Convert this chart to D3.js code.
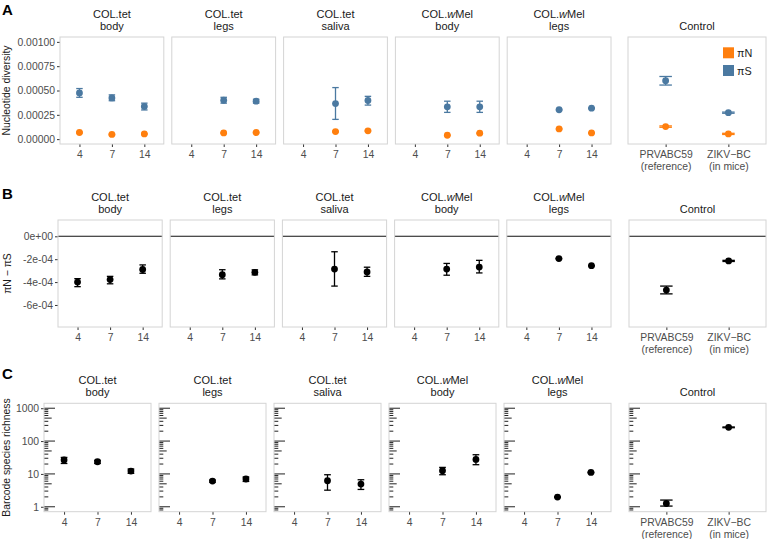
<!DOCTYPE html>
<html>
<head>
<meta charset="utf-8">
<script src="https://cdn.jsdelivr.net/npm/d3@7"></script>
<style>
  body { margin: 0; background: #fff; }
  svg { display: block; font-family: "Liberation Sans", Arial, Helvetica, sans-serif; }
  .tick line { stroke: #333; }
  .tick text { fill: #4d4d4d; font-size: 10.4px; }
</style>
</head>
<body>
<svg id="chart" width="768" height="539"></svg>
<script>
// ---- data ----
var groupTitles = [["COL.tet", "body"], ["COL.tet", "legs"], ["COL.tet", "saliva"], ["COL.wMel", "body"], ["COL.wMel", "legs"]];
var days = ["4", "7", "14"];
var controlLabels = ["PRVABC59|(reference)", "ZIKV\u2212BC|(in mice)"];

// [mean, low, high] per day, null = no sample
var piN = [
  [[6.8e-5, 6.2e-5, 7.4e-5], [4.8e-5, 4.3e-5, 5.3e-5], [5.4e-5, 4.9e-5, 5.9e-5]],
  [null, [6.4e-5, 5.9e-5, 6.9e-5], [6.8e-5, 6.3e-5, 7.3e-5]],
  [null, [7.8e-5, 7.2e-5, 8.4e-5], [8.5e-5, 7.9e-5, 9.1e-5]],
  [null, [4.0e-5, 3.5e-5, 4.5e-5], [6.1e-5, 5.6e-5, 6.6e-5]],
  [null, [1.05e-4, 1.0e-4, 1.1e-4], [6.4e-5, 5.9e-5, 6.9e-5]]
];
var piNControl = [[1.29e-4, 1.22e-4, 1.36e-4], [5.4e-5, 4.8e-5, 6.0e-5]];

var piS = [
  [[4.75e-4, 4.3e-4, 5.2e-4], [4.24e-4, 3.95e-4, 4.55e-4], [3.36e-4, 3.0e-4, 3.7e-4]],
  [null, [4.0e-4, 3.7e-4, 4.3e-4], [3.9e-4, 3.7e-4, 4.1e-4]],
  [null, [3.66e-4, 2.03e-4, 5.3e-4], [3.97e-4, 3.5e-4, 4.4e-4]],
  [null, [3.32e-4, 2.75e-4, 3.9e-4], [3.32e-4, 2.75e-4, 3.9e-4]],
  [null, [3.02e-4, 2.97e-4, 3.07e-4], [3.18e-4, 3.13e-4, 3.23e-4]]
];
var piSControl = [[6.0e-4, 5.56e-4, 6.44e-4], [2.72e-4, 2.66e-4, 2.78e-4]];

var diffNS = [
  [[-4.0e-4, -4.4e-4, -3.7e-4], [-3.78e-4, -4.15e-4, -3.5e-4], [-2.9e-4, -3.23e-4, -2.5e-4]],
  [null, [-3.35e-4, -3.72e-4, -2.92e-4], [-3.15e-4, -3.37e-4, -2.93e-4]],
  [null, [-2.86e-4, -4.35e-4, -1.35e-4], [-3.12e-4, -3.5e-4, -2.7e-4]],
  [null, [-2.86e-4, -3.4e-4, -2.37e-4], [-2.69e-4, -3.2e-4, -2.1e-4]],
  [null, [-1.95e-4, -1.98e-4, -1.92e-4], [-2.57e-4, -2.6e-4, -2.54e-4]]
];
var diffControl = [[-4.7e-4, -5.03e-4, -4.35e-4], [-2.15e-4, -2.2e-4, -2.1e-4]];

var richness = [
  [[26.5, 20.8, 31.8], [23.5, 20.8, 25.8], [12.2, 10.4, 14.1]],
  [null, [6.06, 5.6, 6.5], [7.0, 5.9, 8.05]],
  [null, [6.2, 3.2, 9.45], [4.9, 3.37, 6.65]],
  [null, [12.5, 9.45, 15.8], [27.7, 19.1, 38.4]],
  [null, [1.97, 1.93, 2.01], [11.1, 10.8, 11.4]]
];
var richnessControl = [[1.26, 1.05, 1.6], [262, 255, 269]];

var ticksA = [0, 0.00025, 0.0005, 0.00075, 0.001];
var ticksB = [0, -2e-4, -4e-4, -6e-4];
var ticksC = [1, 10, 100, 1000];

var orange = "#ff7f0e", blue = "#4b79a1", black = "#000";

// ---- layout ----
var svg = d3.select("#chart");

function sci(v) {
  if (v === 0) return "0e+00";
  return d3.format(".0e")(v).replace("\u2212", "-").replace(/e([+-])(\d)$/, "e$10$2");
}

function stripText(g, cx, lines, top) {
  var y0 = lines.length == 2 ? top - 19.5 : top - 7;
  lines.forEach(function(line, i) {
    var t = g.append("text")
        .attr("x", cx)
        .attr("y", y0 + i * 12.5)
        .attr("text-anchor", "middle")
        .style("font-size", "11px")
        .style("fill", "#1a1a1a");
    if (line.indexOf("wMel") >= 0) {
      t.append("tspan").text("COL.");
      t.append("tspan").style("font-style", "italic").text("w");
      t.append("tspan").text("Mel");
    } else {
      t.text(line);
    }
  });
}

function drawRow(cfg) {
  var g = svg.append("g");
  var y = cfg.y.range([cfg.bottom, cfg.top]);

  g.append("text")
      .attr("x", 2)
      .attr("y", cfg.labelY)
      .style("font-size", "15px")
      .style("font-weight", "bold")
      .text(cfg.label);

  g.append("text")
      .attr("transform", "translate(" + cfg.titleX + "," + (cfg.top + cfg.bottom) / 2 + ") rotate(-90)")
      .attr("text-anchor", "middle")
      .style("font-size", "10.4px")
      .style("fill", "#1a1a1a")
      .text(cfg.yTitle);

  var panels = groupTitles.map(function(t, i) {
    var x0 = cfg.left + i * (cfg.w + 8);
    return {x0: x0, x1: x0 + cfg.w, cats: days, title: t, idx: i};
  });
  panels.push({x0: cfg.ctrlLeft, x1: 766, cats: controlLabels, title: ["Control"], idx: -1});

  panels.forEach(function(p, pi) {
    var x = d3.scalePoint().domain(p.cats).range([p.x0, p.x1]).padding(0.6);
    var cap = x.step() * 0.1;
    var pg = g.append("g");

    pg.append("rect")
        .attr("x", p.x0).attr("y", cfg.top)
        .attr("width", p.x1 - p.x0).attr("height", cfg.bottom - cfg.top)
        .attr("fill", "#fff");

    stripText(pg, (p.x0 + p.x1) / 2, p.title, cfg.top);

    var xa = pg.append("g")
        .attr("transform", "translate(0," + cfg.bottom + ")")
        .call(d3.axisBottom(x).tickSize(3).tickPadding(4).tickSizeOuter(0));
    xa.select(".domain").remove();
    xa.selectAll(".tick text").each(function(d) {
      var parts = d.split("|"), t = d3.select(this).text(null).attr("dy", null);
      parts.forEach(function(s, k) {
        t.append("tspan").attr("x", 0).attr("dy", k == 0 ? "0.71em" : "1.1em").text(s);
      });
    });

    if (pi == 0) {
      var ya = pg.append("g")
          .attr("transform", "translate(" + p.x0 + ",0)")
          .call(d3.axisLeft(y).tickValues(cfg.ticks).tickFormat(cfg.fmt).tickSize(3).tickPadding(2).tickSizeOuter(0));
      ya.select(".domain").remove();
    }

    if (cfg.logticks) {
      var lt = [];
      for (var e = -1; e <= 3; e++) {
        for (var k = 1; k <= 9; k++) {
          var v = k * Math.pow(10, e);
          if (v >= y.domain()[0] && v <= y.domain()[1]) lt.push({v: v, len: k == 1 ? 11 : k == 5 ? 7.7 : 4.3});
        }
      }
      pg.selectAll(".lt").data(lt).enter().append("line")
          .attr("x1", p.x0).attr("x2", function(d) { return p.x0 + d.len; })
          .attr("y1", function(d) { return y(d.v); }).attr("y2", function(d) { return y(d.v); })
          .attr("stroke", "#222").attr("stroke-width", 1);
    }

    if (cfg.hline != null) {
      pg.append("line")
          .attr("x1", p.x0).attr("x2", p.x1)
          .attr("y1", y(cfg.hline)).attr("y2", y(cfg.hline))
          .attr("stroke", "#111").attr("stroke-width", 1.1);
    }

    cfg.series.forEach(function(s) {
      var vals = p.idx >= 0 ? s.data[p.idx] : s.control;
      var pts = [];
      vals.forEach(function(d, j) { if (d) pts.push({cat: p.cats[j], m: d[0], lo: d[1], hi: d[2]}); });
      var eg = pg.selectAll(null).data(pts).enter().append("g")
          .attr("stroke", s.color).attr("stroke-width", 1.3).attr("fill", "none");
      eg.append("line")
          .attr("x1", function(d) { return x(d.cat); }).attr("x2", function(d) { return x(d.cat); })
          .attr("y1", function(d) { return y(d.lo); }).attr("y2", function(d) { return y(d.hi); });
      ["lo", "hi"].forEach(function(key) {
        eg.append("line")
            .attr("x1", function(d) { return x(d.cat) - cap; }).attr("x2", function(d) { return x(d.cat) + cap; })
            .attr("y1", function(d) { return y(d[key]); }).attr("y2", function(d) { return y(d[key]); });
      });
      pg.selectAll(null).data(pts).enter().append("circle")
          .attr("cx", function(d) { return x(d.cat); })
          .attr("cy", function(d) { return y(d.m); })
          .attr("r", 3.4)
          .attr("fill", s.color);
    });

    pg.append("rect")
        .attr("x", p.x0).attr("y", cfg.top)
        .attr("width", p.x1 - p.x0).attr("height", cfg.bottom - cfg.top)
        .attr("fill", "none").attr("stroke", "#d4d4d4").attr("stroke-width", 1);

    if (cfg.legend && p.idx < 0) {
      cfg.series.forEach(function(s, k) {
        pg.append("rect")
            .attr("x", 723).attr("y", 47.3 + k * 17.7)
            .attr("width", 11).attr("height", 11)
            .attr("fill", s.color);
        pg.append("text")
            .attr("x", 737).attr("y", 56.8 + k * 17.7)
            .style("font-size", "10.8px").style("fill", "#1a1a1a")
            .text(s.name);
      });
    }
  });
}

drawRow({
  label: "A", labelY: 14.5, top: 37, bottom: 144, left: 60, w: 103.8, ctrlLeft: 628,
  y: d3.scaleLinear().domain([-0.00005, 0.00105]),
  ticks: ticksA, fmt: d3.format(".5f"), titleX: 10, yTitle: "Nucleotide diversity",
  legend: true,
  series: [
    {name: "\u03c0N", color: orange, data: piN, control: piNControl},
    {name: "\u03c0S", color: blue, data: piS, control: piSControl}
  ]
});

drawRow({
  label: "B", labelY: 198.5, top: 220, bottom: 327, left: 58, w: 104.2, ctrlLeft: 629,
  y: d3.scaleLinear().domain([-0.0007925, 0.0001425]),
  ticks: ticksB, fmt: sci, titleX: 11, yTitle: "\u03c0N \u2212 \u03c0S",
  hline: 0,
  series: [{name: "diff", color: black, data: diffNS, control: diffControl}]
});

drawRow({
  label: "C", labelY: 378.5, top: 403.3, bottom: 511.7, left: 44, w: 107, ctrlLeft: 629,
  y: d3.scaleLog().domain([Math.pow(10, -0.15), Math.pow(10, 3.15)]),
  ticks: ticksC, fmt: d3.format("d"), titleX: 10, yTitle: "Barcode species richness",
  logticks: true,
  series: [{name: "richness", color: black, data: richness, control: richnessControl}]
});
</script>
</body>
</html>
